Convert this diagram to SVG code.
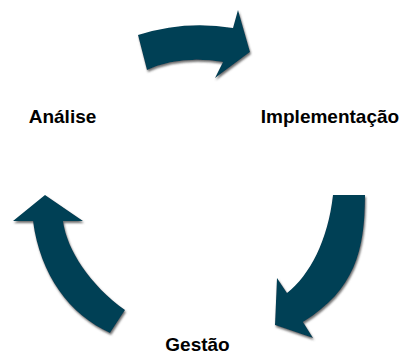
<svg xmlns="http://www.w3.org/2000/svg" width="408" height="354" viewBox="0 0 408 354">
  <defs>
    <filter id="sh" x="-20%" y="-20%" width="140%" height="140%">
      <feDropShadow dx="1" dy="2" stdDeviation="0.8" flood-color="#555555" flood-opacity="0.85"/>
    </filter>
    <style>
      .arrow { fill: #023F54; filter: url(#sh); }
      .label { font-family: "Liberation Sans", Arial, sans-serif; font-weight: bold; font-size: 19px; fill: #000000; text-anchor: middle; }
    </style>
  </defs>
  <rect width="408" height="354" fill="#ffffff"/>
  <g id="connectors">
    <path class="arrow" d="M138,35 Q185,20 233,28 L238,10 L250,52 L215,78 L223,62 Q180,55 147,70 Z"/>
    <path class="arrow" d="M333,195 L365,195 C365,250 355,290 303,322 L313,338 L275,325 L277,278 L287,293 C310,275 328,240 333,195 Z"/>
    <path class="arrow" d="M45,195 L83,221 L63,221 C67,250 90,285 125,310 L110,333 C70,315 40,275 33,221 L13,221 Z"/>
  </g>
  <g id="analise"><text class="label" x="62.5" y="123">Análise</text></g>
  <g id="implementacao"><text class="label" x="330" y="123">Implementação</text></g>
  <g id="gestao"><text class="label" x="197.5" y="351">Gestão</text></g>
</svg>
